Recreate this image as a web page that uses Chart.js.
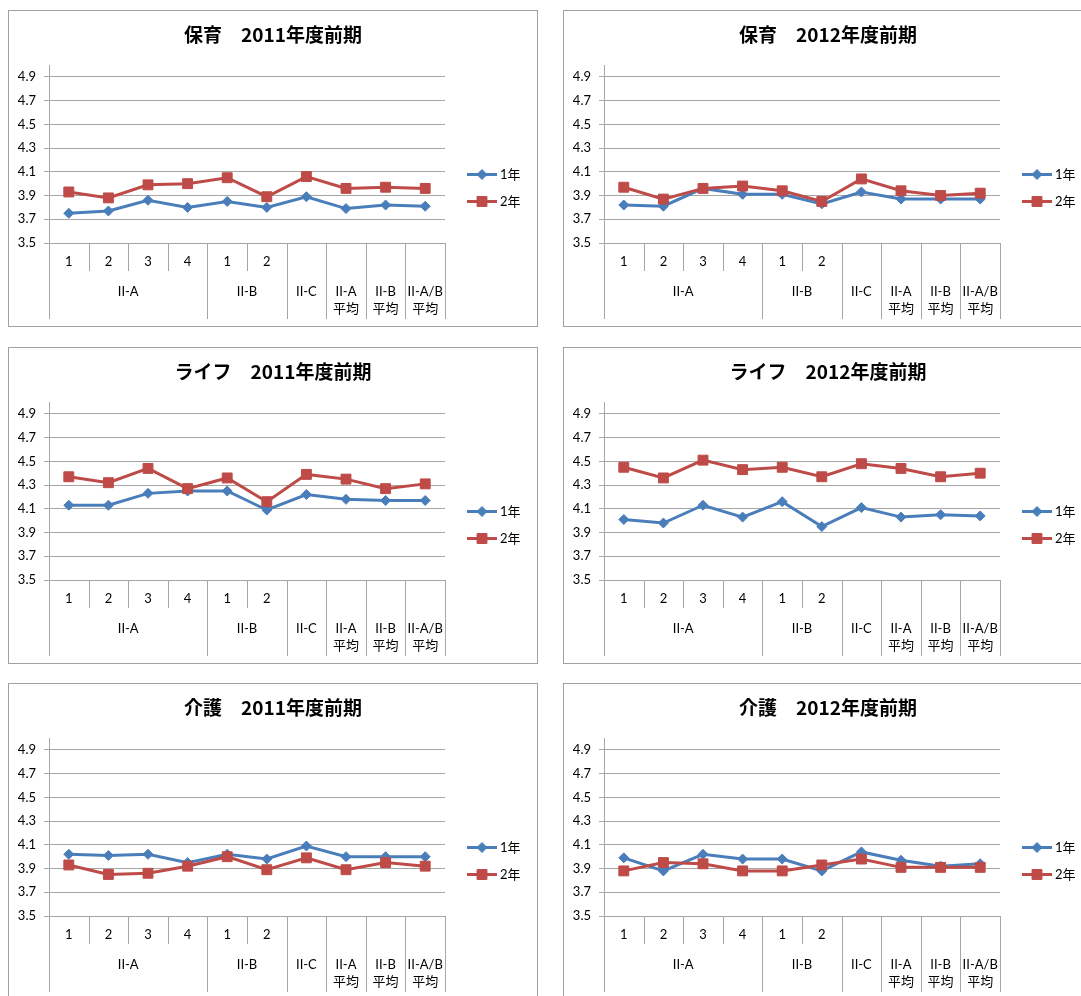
<!DOCTYPE html>
<html>
<head>
<meta charset="utf-8">
<script src="https://cdn.jsdelivr.net/npm/chart.js@4.4.1/dist/chart.umd.min.js"></script>
<style>
html, body { margin: 0; padding: 0; background: #fff; overflow: hidden; }
body { width: 1081px; height: 996px; position: relative; }
.panel { position: absolute; width: 528px; height: 315px; border: 1px solid #a0a0a0; background: #fff; }
</style>
</head>
<body>
<div class="panel" style="left:8px;top:10px"><canvas id="c0"></canvas></div>
<div class="panel" style="left:563px;top:10px"><canvas id="c1"></canvas></div>
<div class="panel" style="left:8px;top:347px"><canvas id="c2"></canvas></div>
<div class="panel" style="left:563px;top:347px"><canvas id="c3"></canvas></div>
<div class="panel" style="left:8px;top:683px"><canvas id="c4"></canvas></div>
<div class="panel" style="left:563px;top:683px"><canvas id="c5"></canvas></div>
<script>
// category axis: class numbers grouped by course
const categories = ['1', '2', '3', '4', '1', '2', '', '', '', ''];
const groupNames = [['II-A'], ['II-B'], ['II-C'], ['II-A', '平均'], ['II-B', '平均'], ['II-A/B', '平均']];
const groupSizes = [4, 2, 1, 1, 1, 1];
const seriesNames = ['1年', '2年'];
const yTicks = [3.5, 3.7, 3.9, 4.1, 4.3, 4.5, 4.7, 4.9];

const titles = ['保育　2011年度前期', '保育　2012年度前期', 'ライフ　2011年度前期',
                'ライフ　2012年度前期', '介護　2011年度前期', '介護　2012年度前期'];

const hoiku2011Y1 = [3.75, 3.77, 3.86, 3.80, 3.85, 3.80, 3.89, 3.79, 3.82, 3.81];
const hoiku2011Y2 = [3.93, 3.88, 3.99, 4.00, 4.05, 3.89, 4.06, 3.96, 3.97, 3.96];
const hoiku2012Y1 = [3.82, 3.81, 3.96, 3.91, 3.91, 3.83, 3.93, 3.87, 3.87, 3.87];
const hoiku2012Y2 = [3.97, 3.87, 3.96, 3.98, 3.94, 3.85, 4.04, 3.94, 3.90, 3.92];
const life2011Y1 = [4.13, 4.13, 4.23, 4.25, 4.25, 4.09, 4.22, 4.18, 4.17, 4.17];
const life2011Y2 = [4.37, 4.32, 4.44, 4.27, 4.36, 4.16, 4.39, 4.35, 4.27, 4.31];
const life2012Y1 = [4.01, 3.98, 4.13, 4.03, 4.16, 3.95, 4.11, 4.03, 4.05, 4.04];
const life2012Y2 = [4.45, 4.36, 4.51, 4.43, 4.45, 4.37, 4.48, 4.44, 4.37, 4.40];
const kaigo2011Y1 = [4.02, 4.01, 4.02, 3.95, 4.02, 3.98, 4.09, 4.00, 4.00, 4.00];
const kaigo2011Y2 = [3.93, 3.85, 3.86, 3.92, 4.00, 3.89, 3.99, 3.89, 3.95, 3.92];
const kaigo2012Y1 = [3.99, 3.88, 4.02, 3.98, 3.98, 3.88, 4.04, 3.97, 3.92, 3.94];
const kaigo2012Y2 = [3.88, 3.95, 3.94, 3.88, 3.88, 3.93, 3.98, 3.91, 3.91, 3.91];

const panels = [
  [hoiku2011Y1, hoiku2011Y2], [hoiku2012Y1, hoiku2012Y2],
  [life2011Y1, life2011Y2], [life2012Y1, life2012Y2],
  [kaigo2011Y1, kaigo2011Y2], [kaigo2012Y1, kaigo2012Y2]
];

const FONT = 'Lato, "Noto Sans CJK JP", sans-serif';
const GRID = '#a6a6a6';
Chart.defaults.font.family = FONT;
Chart.defaults.color = '#000';

// one unique label per point, e.g. "II-A 1"
const labels = [];
groupSizes.forEach((n, g) => {
  const start = labels.length;
  for (let k = 0; k < n; k++) {
    labels.push((groupNames[g].join(' ') + ' ' + categories[start + k]).trim());
  }
});

// two-level category axis + legend (line with marker) on the right
const multiAxis = {
  id: 'multiAxis',
  afterDraw(chart) {
    const {ctx, chartArea: area, scales: {x}} = chart;
    const y0 = area.bottom;
    const edge = i => Math.round(x.getPixelForValue(i - 0.5)) + 0.5;
    const vline = (px, len) => {
      ctx.beginPath(); ctx.moveTo(px, y0); ctx.lineTo(px, y0 + len); ctx.stroke();
    };
    ctx.save();
    ctx.strokeStyle = GRID;
    ctx.lineWidth = 1;
    ctx.font = '13px ' + FONT;
    ctx.fillStyle = '#000';
    ctx.textAlign = 'center';
    ctx.textBaseline = 'middle';
    let start = 0;
    groupSizes.forEach((n, g) => {
      vline(edge(start), 76);
      for (let k = 1; k < n; k++) vline(edge(start + k), 28);
      for (let k = 0; k < n; k++) {
        if (categories[start + k]) ctx.fillText(categories[start + k], x.getPixelForValue(start + k), y0 + 19);
      }
      const mid = (x.getPixelForValue(start - 0.5) + x.getPixelForValue(start + n - 0.5)) / 2;
      groupNames[g].forEach((t, j) => ctx.fillText(t, mid, y0 + 49 + j * 17));
      start += n;
    });
    vline(edge(start), 76);

    chart.data.datasets.forEach((ds, i) => {
      const lx = area.right + 22;
      const ly = Math.round(area.top + 109 + i * 27) + 0.5;
      ctx.strokeStyle = ds.borderColor;
      ctx.lineWidth = 3;
      ctx.beginPath(); ctx.moveTo(lx, ly); ctx.lineTo(lx + 30, ly); ctx.stroke();
      ctx.fillStyle = ds.pointBackgroundColor;
      ctx.strokeStyle = ds.pointBorderColor;
      ctx.lineWidth = 1;
      Chart.helpers.drawPoint(ctx, {pointStyle: ds.pointStyle, radius: ds.pointRadius, rotation: 0, borderWidth: 1}, lx + 15, ly);
      ctx.fillStyle = '#000';
      ctx.textAlign = 'left';
      ctx.fillText(seriesNames[i], lx + 33, ly);
    });
    ctx.restore();
  }
};

panels.forEach((series, p) => {
  new Chart('c' + p, {
    type: 'line',
    data: {
      labels: labels,
      datasets: [{
        label: seriesNames[0],
        data: series[0],
        borderColor: '#4a7ebb',
        borderWidth: 3,
        pointStyle: 'rectRot',
        pointRadius: 5,
        pointBackgroundColor: '#4a7ebb',
        pointBorderColor: '#4a7ebb',
        pointBorderWidth: 1,
        order: 1
      }, {
        label: seriesNames[1],
        data: series[1],
        borderColor: '#be4b48',
        borderWidth: 3,
        pointStyle: 'rect',
        pointRadius: 7,
        pointBackgroundColor: '#be4b48',
        pointBorderColor: '#be4b48',
        pointBorderWidth: 1,
        order: 0
      }]
    },
    options: {
      responsive: true,
      maintainAspectRatio: false,
      animation: false,
      layout: { padding: { left: 0, right: 0, top: 0, bottom: 8 } },
      plugins: {
        legend: { display: false },
        tooltip: { enabled: false },
        title: {
          display: true,
          text: titles[p],
          color: '#000',
          font: { size: 19, weight: 'bold', family: '"Noto Sans CJK JP", sans-serif' },
          padding: { top: 12.6, bottom: 18.6 }
        }
      },
      scales: {
        x: {
          type: 'category',
          offset: true,
          grid: { display: false },
          border: { display: false },
          ticks: { display: false },
          afterFit(s) { s.height = 75; }
        },
        y: {
          min: 3.5,
          max: 5.0,
          afterBuildTicks(s) { s.ticks = yTicks.map(v => ({ value: v })); },
          ticks: { padding: 8, font: { size: 13 }, color: '#000', callback: v => Number(v).toFixed(1) },
          grid: { color: GRID, tickLength: 5 },
          border: { color: GRID },
          afterFit(s) { s.width = 40; }
        },
        gap: {
          type: 'linear',
          position: 'right',
          grid: { display: false },
          border: { display: false },
          ticks: { display: false },
          afterFit(s) { s.width = 92; }
        }
      }
    },
    plugins: [multiAxis]
  });
});
</script>
</body>
</html>
